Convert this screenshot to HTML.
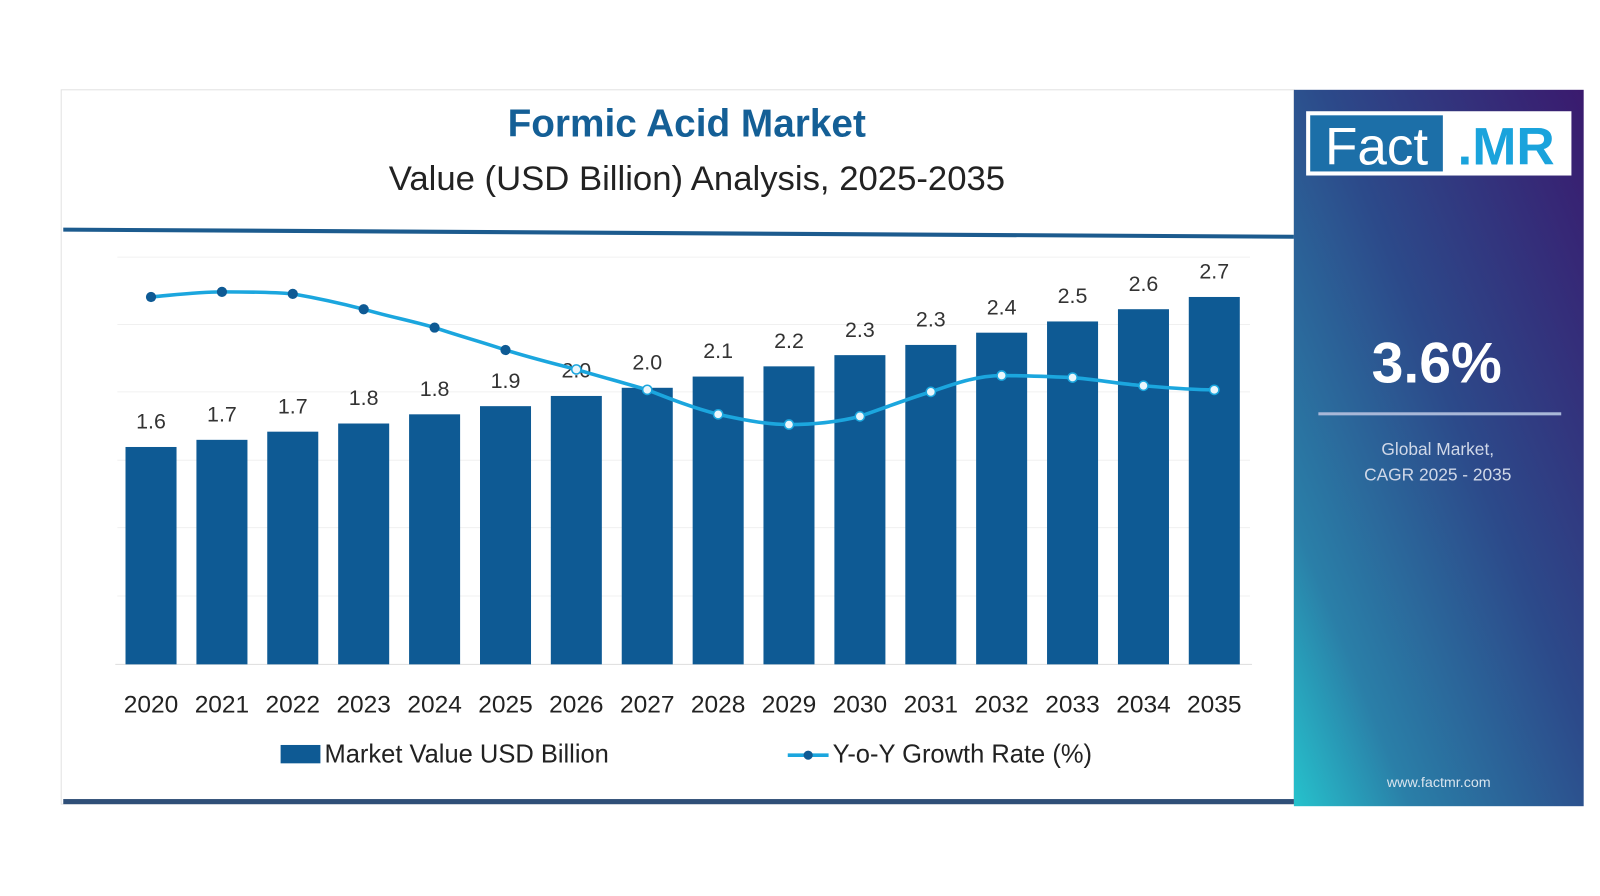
<!DOCTYPE html>
<html><head><meta charset="utf-8"><style>
html,body{margin:0;padding:0;background:#fff;width:1600px;height:896px;overflow:hidden}
svg{display:block}
</style></head><body>
<svg width="1600" height="896" viewBox="0 0 1568 878" preserveAspectRatio="none" xmlns="http://www.w3.org/2000/svg" font-family="Liberation Sans, sans-serif">
<defs>
<linearGradient id="pg" x1="1" y1="0" x2="0" y2="1">
<stop offset="0" stop-color="#3a1a6e"/><stop offset="0.45" stop-color="#2c4a8a"/><stop offset="0.8" stop-color="#2a7fa8"/><stop offset="1" stop-color="#26c2cc"/>
</linearGradient>
</defs>
<rect x="60" y="88" width="1208" height="700" fill="#fff" stroke="#e2e2e2"/>
<rect x="1268" y="88" width="284" height="702" fill="url(#pg)"/>
<text x="673" y="134" text-anchor="middle" font-size="38" font-weight="bold" fill="#145f96">Formic Acid Market</text>
<text x="683" y="186" text-anchor="middle" font-size="34" fill="#222">Value (USD Billion) Analysis, 2025-2035</text>
<polygon points="62,223 1268,230 1268,234 62,227" fill="#1c5b8e"/>
<rect x="62" y="783" width="1206" height="5" fill="#2f4f78"/>
<g stroke="#f0f0f0" stroke-width="1">
<line x1="115" y1="252" x2="1225" y2="252"/><line x1="115" y1="318" x2="1225" y2="318"/><line x1="115" y1="384" x2="1225" y2="384"/><line x1="115" y1="451" x2="1225" y2="451"/><line x1="115" y1="517" x2="1225" y2="517"/><line x1="115" y1="584" x2="1225" y2="584"/>
</g>
<line x1="113" y1="651" x2="1227" y2="651" stroke="#ddd"/>
<g fill="#0e5a94">
<rect x="123" y="438" width="50" height="213"/><rect x="192.5" y="431" width="50" height="220"/><rect x="261.9" y="423" width="50" height="228"/><rect x="331.4" y="415" width="50" height="236"/><rect x="400.9" y="406" width="50" height="245"/><rect x="470.4" y="398" width="50" height="253"/><rect x="539.8" y="388" width="50" height="263"/><rect x="609.3" y="380" width="50" height="271"/><rect x="678.8" y="369" width="50" height="282"/><rect x="748.2" y="359" width="50" height="292"/><rect x="817.7" y="348" width="50" height="303"/><rect x="887.2" y="338" width="50" height="313"/><rect x="956.6" y="326" width="50" height="325"/><rect x="1026.1" y="315" width="50" height="336"/><rect x="1095.6" y="303" width="50" height="348"/><rect x="1165" y="291" width="50" height="360"/>
</g>
<g font-size="21" fill="#333" text-anchor="middle">
<text x="148" y="420">1.6</text><text x="217.5" y="413">1.7</text><text x="286.9" y="405">1.7</text><text x="356.4" y="397">1.8</text><text x="425.9" y="388">1.8</text><text x="495.4" y="380">1.9</text><text x="564.8" y="370">2.0</text><text x="634.3" y="362">2.0</text><text x="703.8" y="351">2.1</text><text x="773.2" y="341">2.2</text><text x="842.7" y="330">2.3</text><text x="912.2" y="320">2.3</text><text x="981.6" y="308">2.4</text><text x="1051.1" y="297">2.5</text><text x="1120.6" y="285">2.6</text><text x="1190" y="273">2.7</text>
</g>
<path d="M148,291 C171,289 194,286 217.5,286 C240,286 264,286 286.9,288 C310,292 333,297 356.4,303 C380,310 402,314 425.9,321 C449,329 472,335 495.4,343 C518,350 541,356 564.8,362 C588,369 611,375 634.3,382 C657,391 680,400 703.8,406 C727,411 750,416 773.2,416 C796,416 819,414 842.7,408 C866,400 889,391 912.2,384 C935,376 958,368 981.6,368 C1005,368 1028,369 1051.1,370 C1074,372 1097,376 1120.6,378 C1144,380 1167,382 1190,382" fill="none" stroke="#1ba6de" stroke-width="3.5"/>
<g fill="#0e5a94">
<circle cx="148" cy="291" r="5"/><circle cx="217.5" cy="286" r="5"/><circle cx="286.9" cy="288" r="5"/><circle cx="356.4" cy="303" r="5"/><circle cx="425.9" cy="321" r="5"/><circle cx="495.4" cy="343" r="5"/>
</g>
<g fill="#eaf6fc" stroke="#1ba6de" stroke-width="1.5">
<circle cx="564.8" cy="362" r="4.5"/><circle cx="634.3" cy="382" r="4.5"/><circle cx="703.8" cy="406" r="4.5"/><circle cx="773.2" cy="416" r="4.5"/><circle cx="842.7" cy="408" r="4.5"/><circle cx="912.2" cy="384" r="4.5"/><circle cx="981.6" cy="368" r="4.5"/><circle cx="1051.1" cy="370" r="4.5"/><circle cx="1120.6" cy="378" r="4.5"/><circle cx="1190" cy="382" r="4.5"/>
</g>
<g font-size="24" fill="#222" text-anchor="middle">
<text x="148" y="698">2020</text><text x="217.5" y="698">2021</text><text x="286.9" y="698">2022</text><text x="356.4" y="698">2023</text><text x="425.9" y="698">2024</text><text x="495.4" y="698">2025</text><text x="564.8" y="698">2026</text><text x="634.3" y="698">2027</text><text x="703.8" y="698">2028</text><text x="773.2" y="698">2029</text><text x="842.7" y="698">2030</text><text x="912.2" y="698">2031</text><text x="981.6" y="698">2032</text><text x="1051.1" y="698">2033</text><text x="1120.6" y="698">2034</text><text x="1190" y="698">2035</text>
</g>
<rect x="275" y="730" width="39" height="18" fill="#0e5a94"/>
<text x="318" y="747" font-size="25" fill="#222">Market Value USD Billion</text>
<line x1="772" y1="740" x2="812" y2="740" stroke="#1ba6de" stroke-width="3.5"/>
<circle cx="792" cy="740" r="4.5" fill="#0e5a94"/>
<text x="816" y="747" font-size="25" fill="#222">Y-o-Y Growth Rate (%)</text>
<rect x="1280" y="109" width="260" height="63" fill="#fff"/>
<rect x="1284" y="113" width="130" height="55" fill="#1c6fa8"/>
<text x="1349" y="161" text-anchor="middle" font-size="52" fill="#fff">Fact</text>
<text x="1476" y="161" text-anchor="middle" font-size="52" font-weight="bold" fill="#1aa3dc">.MR</text>
<text x="1408" y="375" text-anchor="middle" font-size="56" font-weight="bold" fill="#fff">3.6%</text>
<rect x="1292" y="404" width="238" height="3" fill="#a9b8d8"/>
<text x="1409" y="446" text-anchor="middle" font-size="17" fill="#d0d8e8">Global Market,</text>
<text x="1409" y="471" text-anchor="middle" font-size="17" fill="#d0d8e8">CAGR 2025 - 2035</text>
<text x="1410" y="771" text-anchor="middle" font-size="14" fill="#d8e4ee">www.factmr.com</text>
</svg>
</body></html>
